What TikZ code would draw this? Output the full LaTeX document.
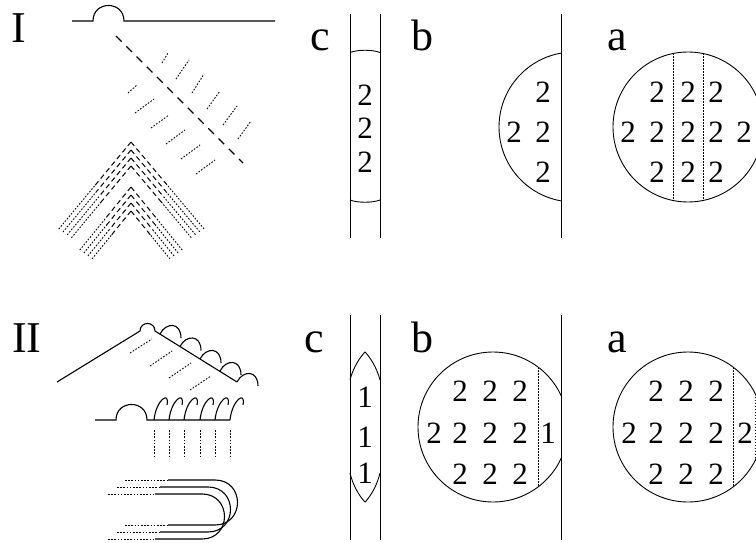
\documentclass[tikz,border=0pt]{standalone}
\usepackage{fontspec}
\setmainfont{Liberation Serif}
\begin{document}
\begin{tikzpicture}[x=1pt,y=-1pt,line width=1.1pt,
  thinline/.style={line width=0.9pt},
  dashline/.style={line width=1.1pt,dash pattern=on 8pt off 6.5pt},
  chevdash/.style={line width=1.0pt,dash pattern=on 5pt off 3.5pt},
  dotline/.style={line width=0.9pt,dash pattern=on 1.6pt off 1.6pt},
  chord/.style={line width=0.8pt,dash pattern=on 1.6pt off 1.4pt},
  digit/.style={inner sep=0pt,font=\fontsize{31}{31}\selectfont},
  lettertag/.style={inner sep=0pt,anchor=base,font=\fontsize{44}{44}\selectfont}]
\useasboundingbox (0,0) rectangle (756,543);
\clip (0,0) rectangle (756,543);

% ---------------- Row I ----------------
\node[lettertag] (tagI) at (19,43) {I};
\node[lettertag] (tagIc) at (320,51) {c};
\node[lettertag] (tagIb) at (422,51) {b};
\node[lettertag] (tagIa) at (617,51) {a};

% surface with bump and incident ray
\draw (72,21) -- (93,21) .. controls (93,0.3) and (124,0.3) .. (124,21) -- (275,21);
\draw[dashline] (116,36) -- (243,163);
\foreach \xa/\ya/\xb/\yb in {162/63/168/53, 176/79/189/60, 192/93/204/74,
    207/109/220/91, 223/125/237/106, 238/139/251/121,
    128/93/137/85, 135/113/154/99, 151/128/169/115,
    166/144/185/130, 181/159/200/145, 196/174/215/160}
  \draw[dotline] (\xa,\ya) -- (\xb,\yb);

% two nested chevron bundles
\foreach \k in {0,1,2,3} {
  \pgfmathsetmacro\ay{142+8*\k}
  \pgfmathsetmacro\t{1-0.06*\k}
  \draw[chevdash] (131,\ay) -- ++(-36.5*\t,44*\t) coordinate (ul);
  \draw[dotline] (ul) -- ++(-36.5*\t,44*\t);
  \draw[chevdash] (131,\ay) -- ++(37*\t,44*\t) coordinate (ur);
  \draw[dotline] (ur) -- ++(37*\t,44*\t);
  \pgfmathsetmacro\by{187+8*\k}
  \pgfmathsetmacro\s{1-0.08*\k}
  \draw[chevdash] (131,\by) -- ++(-26*\s,32*\s) coordinate (ll);
  \draw[dotline] (ll) -- ++(-26*\s,32*\s);
  \draw[chevdash] (131,\by) -- ++(26*\s,32*\s) coordinate (lr);
  \draw[dotline] (lr) -- ++(26*\s,32*\s);
}

% panel c
\draw[thinline] (350,14) -- (350,238);
\draw[thinline] (380,14) -- (380,238);
\draw[thinline] (350,52.5) .. controls (358,49.5) and (372,49.5) .. (380,52.5);
\draw[thinline] (350,200) .. controls (358,203) and (372,203) .. (380,200);
\foreach \y [count=\i] in {95,128,162}
  \node[digit] (Ic\i) at (365,\y) {2};

% panel b
\draw[thinline] (561,14) -- (561,238);
\begin{scope}
  \clip (0,0) rectangle (561,543);
  \draw[thinline] (574,127) circle[radius=75];
\end{scope}
\foreach \x/\y [count=\i] in {543/92, 514/132, 543/132, 543/172}
  \node[digit] (Ib\i) at (\x,\y) {2};

% panel a
\draw[thinline] (688,127) circle[radius=75];
\draw[chord] (673,53.1) -- (673,200.9);
\draw[chord] (703,53.5) -- (703,200.5);
\foreach \x/\y [count=\i] in {657/92, 688/92, 716/92,
    628/132, 657/132, 688/132, 716/132, 744/132,
    657/172, 688/172, 716/172}
  \node[digit] (Ia\i) at (\x,\y) {2};

% ---------------- Row II ----------------
\node[lettertag] (tagII) at (27,352) {II};
\node[lettertag] (tagIIc) at (314,352) {c};
\node[lettertag] (tagIIb) at (422,352) {b};
\node[lettertag] (tagIIa) at (617,352) {a};

% roof with hooks
\draw (57,382) -- (140,331) .. controls (140,321) and (155,321) .. (155,331) -- (237,382);
\foreach \x/\y in {160/334, 180/346.5, 200/359, 220/371, 237/382}
  \draw (\x,\y) .. controls (\x+6,\y-12) and (\x+21,\y-12) .. (\x+21,\y+4);
\foreach \xa/\ya/\xb/\yb in {130/353/152/339, 150/366/172/351,
    169/378/191/363, 190/390/211/376}
  \draw[dotline] (\xa,\ya) -- (\xb,\yb);

% flat surface with hooks
\draw (95,420) -- (116,420) .. controls (116,399.3) and (147,399.3) .. (147,420) -- (230,420);
\foreach \x in {154,169,184,200,215,230} {
  \draw (\x,420) .. controls (\x+2,400) and (\x+16,390) .. (\x+13,405);
  \draw[dotline] (\x,430) -- (\x,457);
}

% three nested U-turns
\foreach \xs/\xd/\xe/\yt in {125/168/215/480, 117/160/208/487, 108/155/202/494} {
  \draw[dotline] (\xs,\yt) -- (\xd,\yt);
  \draw[dotline] (\xs,\yt+45) -- (\xd,\yt+45);
  \draw (\xd,\yt) -- (\xe,\yt) .. controls (\xe+30,\yt) and (\xe+30,\yt+45) .. (\xe,\yt+45) -- (\xd,\yt+45);
}

% panel c
\draw[thinline] (350,315) -- (350,540);
\draw[thinline] (380,315) -- (380,540);
\draw[thinline] (350,380) .. controls (353,368) and (360,357) .. (365,352)
  .. controls (370,357) and (377,368) .. (380,380);
\draw[thinline] (350,473) .. controls (353,486) and (360,497) .. (365,502)
  .. controls (370,497) and (377,486) .. (380,473);
\foreach \y [count=\i] in {397,437,473}
  \node[digit] (IIc\i) at (365,\y) {1};

% panel b
\draw[thinline] (561,315) -- (561,540);
\begin{scope}
  \clip (0,0) rectangle (561,543);
  \draw[thinline] (493,427) circle[radius=75];
\end{scope}
\draw[chord] (538,367) -- (538,487);
\foreach \x/\y [count=\i] in {460/391, 490/391, 520/391,
    434/433, 460/433, 490/433, 520/433,
    460/474, 490/474, 520/474}
  \node[digit] (IIb\i) at (\x,\y) {2};
\node[digit] (IIb1x) at (548,433) {1};

% panel a
\draw[thinline] (688,427) circle[radius=75];
\draw[chord] (733,367) -- (733,487);
\draw[chord] (755,393.5) -- (755,460.5);
\foreach \x/\y [count=\i] in {656/391, 686/391, 716/391,
    629/433, 656/433, 686/433, 716/433, 745/433,
    656/474, 686/474, 716/474}
  \node[digit] (IIa\i) at (\x,\y) {2};
\end{tikzpicture}
\end{document}
